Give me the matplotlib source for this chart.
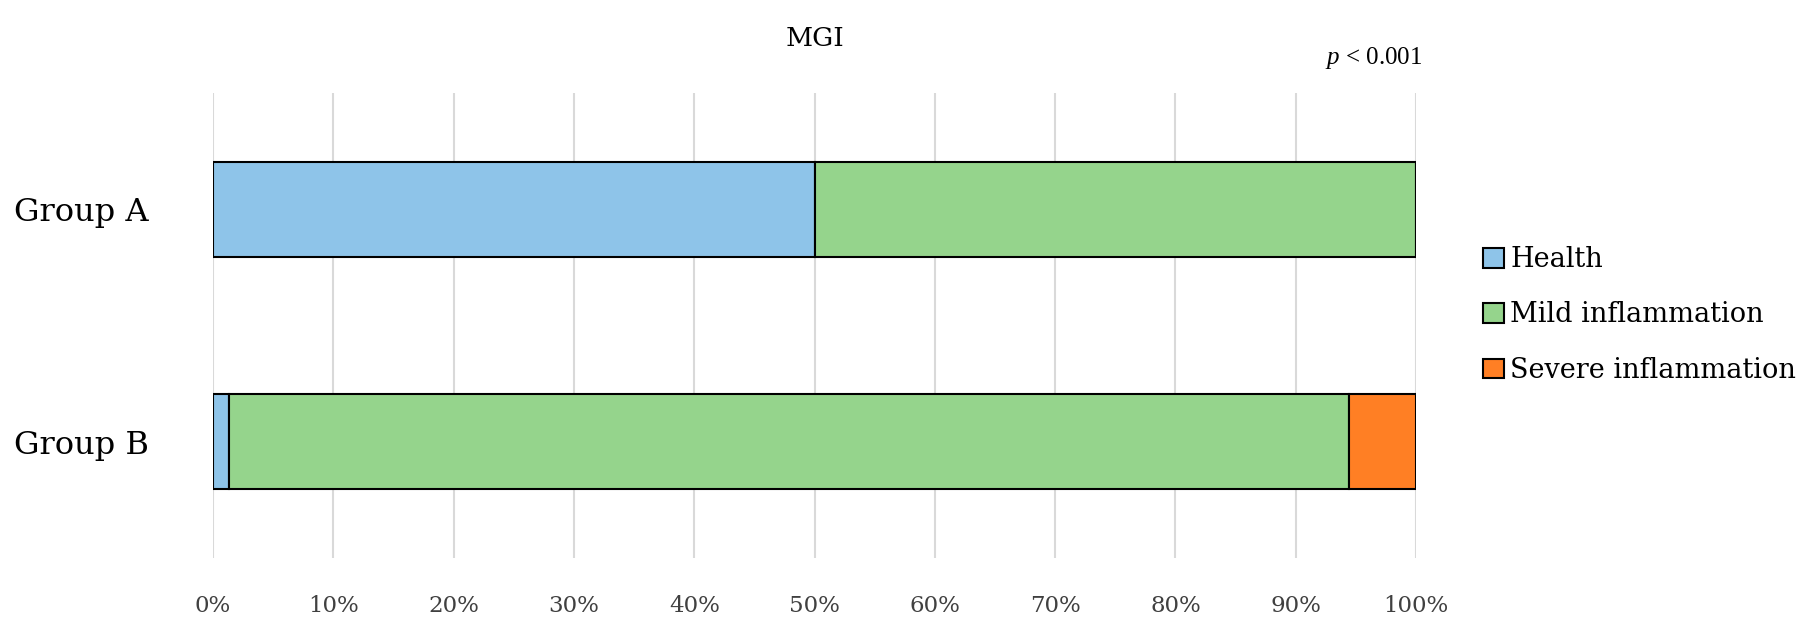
import numpy as np
import matplotlib
matplotlib.use('Agg')
import matplotlib.pyplot as plt
from matplotlib.patches import Patch

# данные (проценты)
groups = ['Group A', 'Group B']
health = [50.0, 1.3]
mild = [50.0, 93.1]
severe = [0.0, 5.6]
series_names = ['Health', 'Mild inflammation', 'Severe inflammation']
colors = ['#8EC4E9', '#95D48C', '#FF7F24']
xticks = np.arange(0, 101, 10)

plt.rcParams['font.family'] = ['DejaVu Serif']
plt.rcParams['mathtext.fontset'] = 'custom'
plt.rcParams['mathtext.it'] = 'Liberation Serif:italic'
plt.rcParams['mathtext.rm'] = 'Liberation Serif'

fig = plt.figure(figsize=(18.19, 6.31), dpi=100)
ax = fig.add_axes([0.1171, 0.1157, 0.6614, 0.7369])

y = np.arange(len(groups))
left = np.zeros(len(groups))
for vals, col in zip([health, mild, severe], colors):
    vals = np.array(vals)
    ax.barh(y, vals, left=left, height=0.41, color=col,
            edgecolor='black', linewidth=1.5, zorder=3)
    left = left + vals

ax.set_xlim(0, 100)
ax.set_ylim(-0.5, 1.5)
ax.invert_yaxis()
ax.set_xticks(xticks)
ax.set_xticklabels([f'{v}%' for v in xticks], fontsize=16.5, color='#404040')
ax.set_yticks(y)
ax.set_yticklabels(groups, fontsize=23)
ax.tick_params(axis='x', length=0, pad=27)
ax.tick_params(axis='y', length=0, pad=46)
ax.grid(axis='x', color='#D9D9D9', linewidth=1.5, zorder=0)
for s in ax.spines.values():
    s.set_visible(False)

fig.text(0.4478, 1 - 46 / 631, 'MGI', ha='center', va='baseline', fontsize=19)
fig.text(0.7818, 1 - 64 / 631, r'$p$ < 0.001', ha='right', va='baseline',
         fontsize=18, family='Liberation Serif')

handles = [Patch(facecolor=c, edgecolor='black', linewidth=1.5) for c in colors]
fig.legend(handles, series_names, loc='center left',
           bbox_to_anchor=(0.802, 1 - 315 / 631), frameon=False,
           fontsize=19.5, handlelength=0.75, handleheight=0.75,
           handletextpad=0.25, labelspacing=1.05)

fig.savefig('out.png', dpi=100)
